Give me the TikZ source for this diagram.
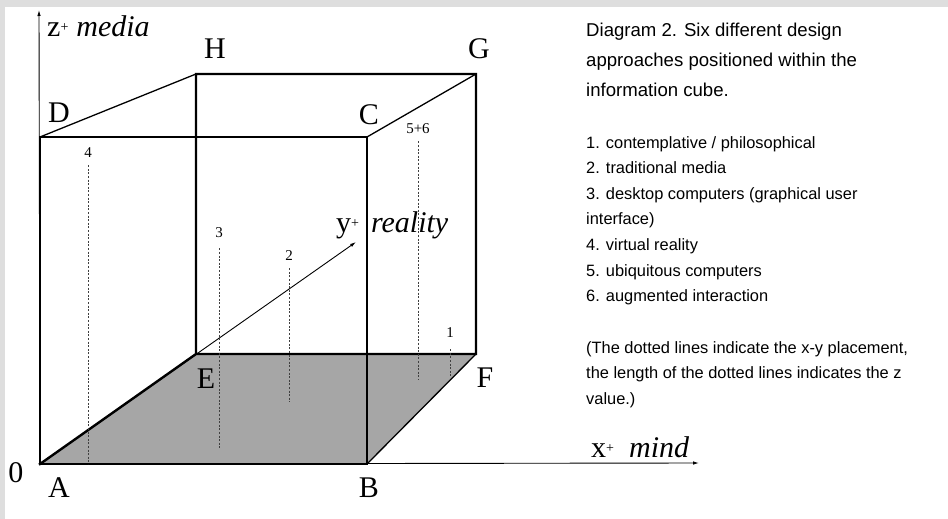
\documentclass[tikz,border=0pt]{standalone}
\usepackage{fontspec}
\setmainfont{Liberation Serif}
\setsansfont{Liberation Sans}
\usepackage{xcolor}
\usetikzlibrary{arrows.meta}
\definecolor{floorgray}{HTML}{A6A6A6}
\definecolor{framegray}{HTML}{DEDEDE}
\newcommand{\axplus}{\raisebox{5pt}{\fontsize{14}{14}\selectfont+}}
\tikzset{
edge/.style={
line width=2.4pt,
line cap=rect,
line join=miter
},
thinedge/.style={
line width=1.3pt
},
axis/.style={
line width=0.9pt,
-{Latex[length=6pt,width=3.5pt]}
},
dotline/.style={
line width=0.9pt,
black!75,
dash pattern=on 2pt off 1.6pt
},
corner/.style={
font=\fontsize{30}{36}\selectfont,
inner sep=0pt,
anchor=base
},
axislabel/.style={
font=\fontsize{30}{36}\selectfont,
inner sep=0pt,
anchor=base west
},
numlabel/.style={
font=\fontsize{15}{18}\selectfont,
inner sep=0pt,
anchor=base
},
caption/.style={
font=\sffamily\fontsize{18.6}{22}\selectfont,
inner sep=0pt,
anchor=base west
},
legend/.style={
font=\sffamily\fontsize{16.4}{20}\selectfont,
inner sep=0pt,
anchor=base west
}
}

\begin{document}
\begin{tikzpicture}[x=1pt,y=-1pt]
\fill[framegray](0,0)rectangle(948,519);
\fill[white](5,7)rectangle(948,519);
\useasboundingbox(0,0)rectangle(948,519);

\coordinate(A)at(40,464);
\coordinate(B)at(367,464);
\coordinate(C)at(367,137);
\coordinate(D)at(40,137);
\coordinate(E)at(196,354);
\coordinate(F)at(476,354);
\coordinate(G)at(476,74);
\coordinate(H)at(196,74);
\coordinate(ztip)at(39,10);
\coordinate(xtip)at(699,463);
\coordinate(ytip)at(356,242);

\fill[floorgray](A)--(B)--(F)--(E)--cycle;

\draw[axis](A)--(ztip);
\draw[axis](A)--(xtip);
\draw[axis](A)--(ytip);

\draw[edge](A)--(B)--(C)--(D)--cycle;
\draw[edge](A)--(E)--(F)--(G)--(H)--(E);
\foreach \x/\y in {D/H,C/G,B/F}
\draw[thinedge](\x)--(\y);

\foreach \k/\t/\x/\yl/\yb/\s in {4/4/88/157/464/8,3/3/219/237/448/11,2/2/289/260/402/8,56/5+6/418/133/380/8,1/1/450/337/377/12}{
\node[numlabel](n\k)at(\x,\yl){\t};
\coordinate(b\k)at(\x,\yb);
\draw[dotline,shorten <=\s pt](n\k)--(b\k);
}

\node[corner](lH)at(215,59){H};
\node[corner](lD)at(59,122){D};
\node[corner](lG)at(479,59){G};
\node[corner](lC)at(369,124){C};
\node[corner](l0)at(16,482){0};
\node[corner](lA)at(59,497){A};
\node[corner](lB)at(369,497){B};
\node[corner](lE)at(206,388){E};
\node[corner](lF)at(485,387){F};

\node[axislabel](zlab)at(47,37){z\axplus\hspace{8pt}\textit{media}};
\node[axislabel](ylab)at(336,232){y\axplus\hspace{12pt}\textit{reality}};
\node[axislabel](xlab)at(591,457){x\axplus\hspace{15pt}\textit{mind}};

\foreach \t [count=\i from 0] in {{Diagram 2. Six different design},{approaches positioned within the},{information cube.}}
\node[caption](cap\i)at(586,{37+29.5*\i}){\t};

\foreach \t [count=\i from 0] in {{1. contemplative / philosophical},{2. traditional media},{3. desktop computers (graphical user},{interface)},{4. virtual reality},{5. ubiquitous computers},{6. augmented interaction}}
\node[legend](item\i)at(586,{148+25.6*\i}){\t};

\foreach \t [count=\i from 0] in {{(The dotted lines indicate the x-y placement,},{the length of the dotted lines indicates the z},{value.)}}
\node[legend](note\i)at(586,{353+25.6*\i}){\t};
\end{tikzpicture}
\end{document}
